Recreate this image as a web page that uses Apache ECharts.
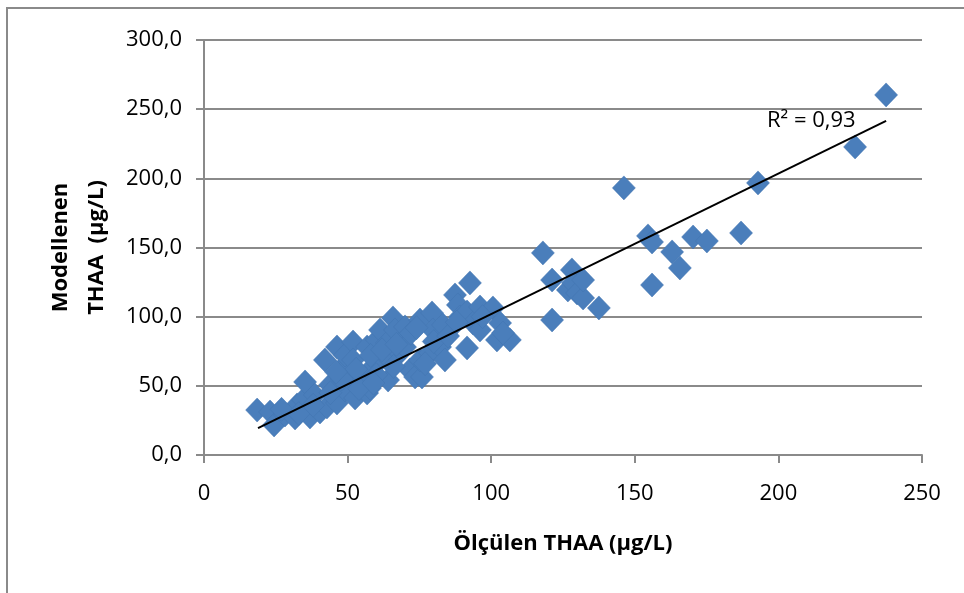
<!DOCTYPE html>
<html>
<head>
<meta charset="utf-8">
<script src="https://cdn.jsdelivr.net/npm/echarts@6/dist/echarts.min.js"></script>
<style>
  html, body { margin: 0; padding: 0; background: #fff; }
  #chart { width: 964px; height: 593px; }
</style>
</head>
<body>
<div id="chart"></div>
<script>
// Ölçülen THAA (x) vs Modellenen THAA (y), µg/L
var measured = [
  18.5, 23.0, 24.4, 28.2, 31.7, 32.4, 34.5, 35.2, 36.9, 38.6,
  40.4, 42.1, 42.8, 43.9, 46.3, 46.3, 47.4, 49.1, 49.1, 51.9,
  51.9, 51.9, 52.6, 55.0, 56.8, 56.8, 57.8, 57.8, 60.2, 61.3,
  61.3, 63.7, 64.1, 64.8, 65.8, 66.5, 68.2, 69.3, 70.0, 71.7,
  73.5, 75.2, 75.9, 75.2, 79.4, 78.7, 79.7, 82.2, 83.2, 83.9,
  87.4, 88.4, 89.1, 91.6, 91.6, 92.6, 93.7, 96.1, 96.1, 100.6,
  103.1, 102.0, 106.5, 104.1, 118.0, 121.2, 121.2, 126.7, 128.1, 128.5,
  129.9, 132.0, 132.0, 137.5, 146.2, 154.6, 156.0, 156.0, 163.0, 165.7,
  170.3, 175.1, 187.0, 192.9, 226.7, 237.5,
  27.0, 33.0, 38.0, 44.0, 48.0, 53.0, 54.0, 58.0, 60.0, 62.0,
  66.0, 70.0, 72.0, 77.0, 80.0, 85.0, 88.0, 97.0, 46.0, 59.0,
  67.0, 74.0
];
var modelled = [
  32.5, 31.1, 21.7, 28.9, 26.8, 36.2, 39.8, 52.8, 27.5, 43.4,
  31.1, 68.7, 34.7, 50.6, 37.6, 78.1, 61.5, 47.0, 72.3, 81.7,
  68.7, 56.4, 41.2, 50.6, 78.1, 44.8, 61.5, 48.4, 83.2, 90.4,
  68.7, 81.0, 54.2, 68.7, 99.1, 90.4, 73.8, 83.2, 92.6, 61.5,
  56.4, 97.6, 56.4, 68.7, 102.7, 73.8, 90.4, 78.1, 94.0, 68.7,
  115.7, 108.5, 99.8, 103.4, 77.4, 124.4, 95.4, 107.0, 90.4, 106.3,
  95.4, 83.2, 83.2, 88.2, 146.1, 126.5, 97.6, 119.3, 133.8, 124.4,
  117.1, 113.5, 126.5, 106.3, 193.1, 158.4, 154.0, 122.9, 146.8, 135.2,
  157.6, 154.7, 160.5, 196.7, 222.7, 260.3,
  33.0, 30.0, 36.0, 45.0, 55.0, 62.0, 48.0, 72.0, 58.0, 76.0,
  64.0, 78.0, 88.0, 66.0, 82.0, 86.0, 96.0, 100.0, 60.0, 52.0,
  80.0, 92.0
];
// linear trendline end points
var trendX = [18.8, 237.5];
var trendY = [19.5, 241.5];
var xTicks = [0, 50, 100, 150, 200, 250];
var yTicks = [0, 50, 100, 150, 200, 250, 300];
var r2Text = 'R² = 0,93';

var points = measured.map(function (v, i) { return [v, modelled[i]]; });
var trend = trendX.map(function (v, i) { return [v, trendY[i]]; });

var chart = echarts.init(document.getElementById('chart'));
var font = '"Open Sans", "Noto Sans", sans-serif';
var grey = '#8a8a8a';

chart.setOption({
  animation: false,
  backgroundColor: '#fff',
  grid: { left: 204, right: 42, top: 40, bottom: 138 },
  graphic: [
    {
      type: 'rect',
      shape: { x: 7, y: 8, width: 1000, height: 1000 },
      style: { fill: null, stroke: grey, lineWidth: 2 },
      silent: true
    },
    {
      type: 'text',
      left: 767, top: 110,
      style: { text: r2Text, font: '22px ' + font, fill: '#000' },
      z: 100
    }
  ],
  xAxis: {
    type: 'value',
    min: xTicks[0], max: xTicks[xTicks.length - 1], interval: 50,
    name: 'Ölçülen THAA (µg/L)',
    nameLocation: 'middle',
    nameGap: 78,
    nameTextStyle: { fontFamily: font, fontSize: 22, fontWeight: 'bold', color: '#000' },
    axisLine: { show: true, lineStyle: { color: grey, width: 2 } },
    axisTick: { show: true, inside: false, length: 8, lineStyle: { color: grey, width: 2 } },
    axisLabel: { margin: 28, fontFamily: font, fontSize: 22, color: '#000' },
    splitLine: { show: false }
  },
  yAxis: {
    type: 'value',
    min: yTicks[0], max: yTicks[yTicks.length - 1], interval: 50,
    name: 'Modellenen\nTHAA  (µg/L)',
    nameLocation: 'middle',
    nameRotate: 90,
    nameGap: 89,
    nameTextStyle: { fontFamily: font, fontSize: 22, fontWeight: 'bold', color: '#000', lineHeight: 36 },
    axisLine: { show: true, lineStyle: { color: grey, width: 2 } },
    axisTick: { show: true, inside: false, length: 8, lineStyle: { color: grey, width: 2 } },
    axisLabel: {
      margin: 22, fontFamily: font, fontSize: 22, color: '#000',
      formatter: function (v) { return v.toFixed(1).replace('.', ','); }
    },
    splitLine: { show: true, lineStyle: { color: grey, width: 2 } }
  },
  series: [
    {
      type: 'scatter',
      data: points,
      symbol: 'diamond',
      symbolSize: [23, 24],
      itemStyle: { color: '#4a7ebb', borderColor: '#4274b0', borderWidth: 0.5, opacity: 1 },
      z: 2
    },
    {
      type: 'line',
      data: trend,
      symbol: 'none',
      lineStyle: { color: '#000', width: 2 },
      z: 3
    }
  ]
});
</script>
</body>
</html>
